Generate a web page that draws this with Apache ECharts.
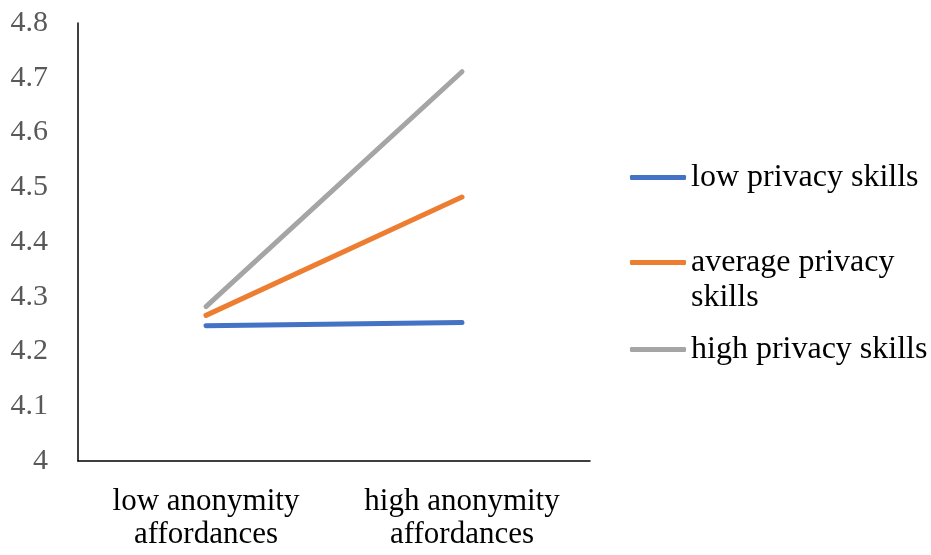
<!DOCTYPE html>
<html>
<head>
<meta charset="utf-8">
<script src="https://cdn.jsdelivr.net/npm/echarts@6/dist/echarts.min.js"></script>
<style>
  html, body { margin: 0; padding: 0; background: #fff; }
  #chart { width: 931px; height: 555px; }
</style>
</head>
<body>
<div id="chart"></div>
<script>
// Conditions on the x axis
const categories = ['low anonymity\naffordances', 'high anonymity\naffordances'];

// Mean values per privacy-skill group
const lowSkills = [4.247, 4.253];
const averageSkills = [4.266, 4.482];
const highSkills = [4.282, 4.711];

const seriesNames = ['low privacy skills', 'average privacy skills', 'high privacy skills'];
const seriesColors = ['#4472C4', '#ED7D31', '#A5A5A5'];

const yMin = 4, yMax = 4.8, yStep = 0.1;

const FONT = "Liberation Serif";

function lineSeries(name, data, color) {
  return {
    name: name,
    type: 'line',
    data: data,
    symbol: 'none',
    showSymbol: false,
    lineStyle: { color: color, width: 5, cap: 'round' },
    itemStyle: { color: color },
    z: 3
  };
}

// One legend block per series so each can sit at its own height
function legendFor(name, top) {
  return {
    show: true,
    data: [name],
    left: 630,
    top: top,
    orient: 'vertical',
    icon: 'roundRect',
    itemWidth: 56,
    itemHeight: 5,
    itemGap: 0,
    padding: 0,
    selectedMode: false,
    formatter: function (n) {
      // the long label wraps; a blank leading line keeps the icon beside its first line
      return n === 'average privacy skills'
        ? '{e| }\n{t|average privacy}\n{t|skills}'
        : n;
    },
    textStyle: {
      fontFamily: FONT,
      fontSize: 32,
      color: '#000',
      lineHeight: 35,
      rich: {
        e: { fontFamily: FONT, fontSize: 32, lineHeight: 35 },
        t: { fontFamily: FONT, fontSize: 32, lineHeight: 35, color: '#000' }
      }
    }
  };
}

function render() {
  const chart = echarts.init(document.getElementById('chart'), null, { renderer: 'canvas' });
  chart.setOption({
    animation: false,
    backgroundColor: '#fff',
    grid: { left: 78, right: 341, top: 23, bottom: 94, containLabel: false },
    legend: [
      legendFor(seriesNames[0], 160),
      legendFor(seriesNames[1], 210),
      legendFor(seriesNames[2], 332)
    ],
    xAxis: {
      type: 'category',
      data: categories,
      boundaryGap: true,
      axisLine: { show: true, lineStyle: { color: '#000', width: 1.5 } },
      axisTick: { show: false },
      axisLabel: {
        fontFamily: FONT,
        fontSize: 31,
        color: '#000',
        lineHeight: 33,
        margin: 24
      },
      splitLine: { show: false }
    },
    yAxis: {
      type: 'value',
      min: yMin,
      max: yMax,
      interval: yStep,
      axisLine: { show: true, lineStyle: { color: '#000', width: 1.5 } },
      axisTick: { show: false },
      splitLine: { show: false },
      axisLabel: {
        fontFamily: FONT,
        fontSize: 30,
        color: '#595959',
        margin: 30,
        formatter: function (v) { return String(Math.round(v * 10) / 10); }
      }
    },
    series: [
      lineSeries(seriesNames[0], lowSkills, seriesColors[0]),
      lineSeries(seriesNames[1], averageSkills, seriesColors[1]),
      lineSeries(seriesNames[2], highSkills, seriesColors[2])
    ]
  });
}

if (document.fonts && document.fonts.load) {
  document.fonts.load('31px "Liberation Serif"').then(render, render);
} else {
  render();
}
</script>
</body>
</html>
